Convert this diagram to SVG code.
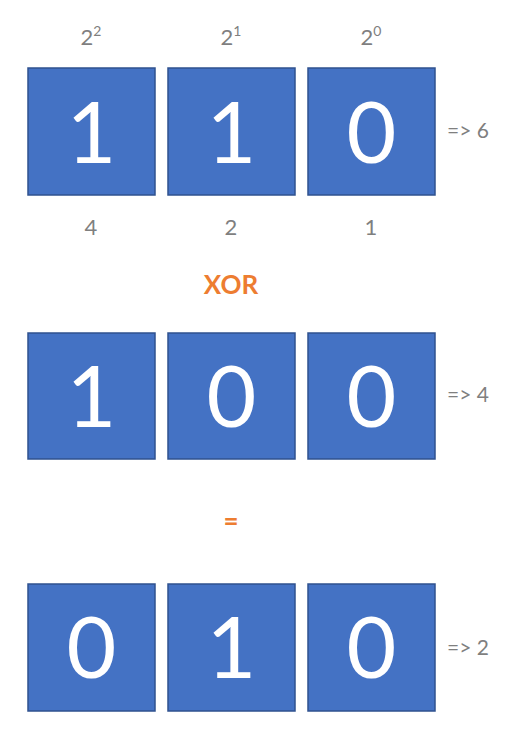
<svg xmlns="http://www.w3.org/2000/svg" width="510" height="734" viewBox="0 0 510 734">
<style>
.box{fill:#4472C4;stroke:#2F528F;stroke-width:1.5}
.dig{font-family:Lato,"Open Sans",sans-serif;font-size:86px;fill:#FFFFFF;text-anchor:middle}
.lbl{font-family:Lato,"Open Sans",sans-serif;font-size:22px;fill:#7F7F7F;text-anchor:middle}
.res{font-family:Lato,"Open Sans",sans-serif;font-size:21px;fill:#7F7F7F}
.op{font-family:Lato,"Open Sans",sans-serif;font-size:26px;font-weight:bold;fill:#ED7D31;text-anchor:middle}
</style>
<rect width="510" height="734" fill="#FFFFFF"/>
<g id="labels-top">
<text class="lbl" x="91" y="45">2<tspan font-size="14" dy="-9">2</tspan></text>
<text class="lbl" x="231" y="45">2<tspan font-size="14" dy="-9">1</tspan></text>
<text class="lbl" x="371" y="45">2<tspan font-size="14" dy="-9">0</tspan></text>
</g>
<g id="row1">
<g id="r1b1"><rect class="box" x="28" y="68" width="127" height="127"/><text class="dig" x="91.5" y="163">1</text></g>
<g id="r1b2"><rect class="box" x="168" y="68" width="127" height="127"/><text class="dig" x="231.5" y="163">1</text></g>
<g id="r1b3"><rect class="box" x="308" y="68" width="127" height="127"/><text class="dig" x="371.5" y="163">0</text></g>
<text class="res" x="447" y="138">=&gt; 6</text>
</g>
<g id="labels-bottom">
<text class="lbl" x="91" y="235">4</text>
<text class="lbl" x="231" y="235">2</text>
<text class="lbl" x="371" y="235">1</text>
</g>
<text id="xor" class="op" x="231" y="294">XOR</text>
<g id="row2">
<g id="r2b1"><rect class="box" x="28" y="333" width="127" height="126"/><text class="dig" x="91.5" y="427">1</text></g>
<g id="r2b2"><rect class="box" x="168" y="333" width="127" height="126"/><text class="dig" x="231.5" y="427">0</text></g>
<g id="r2b3"><rect class="box" x="308" y="333" width="127" height="126"/><text class="dig" x="371.5" y="427">0</text></g>
<text class="res" x="447" y="402">=&gt; 4</text>
</g>
<text id="eq" class="op" x="231" y="530">=</text>
<g id="row3">
<g id="r3b1"><rect class="box" x="28" y="584" width="127" height="127"/><text class="dig" x="91.5" y="678">0</text></g>
<g id="r3b2"><rect class="box" x="168" y="584" width="127" height="127"/><text class="dig" x="231.5" y="678">1</text></g>
<g id="r3b3"><rect class="box" x="308" y="584" width="127" height="127"/><text class="dig" x="371.5" y="678">0</text></g>
<text class="res" x="447" y="655">=&gt; 2</text>
</g>
<g id="connectors"></g>
</svg>
